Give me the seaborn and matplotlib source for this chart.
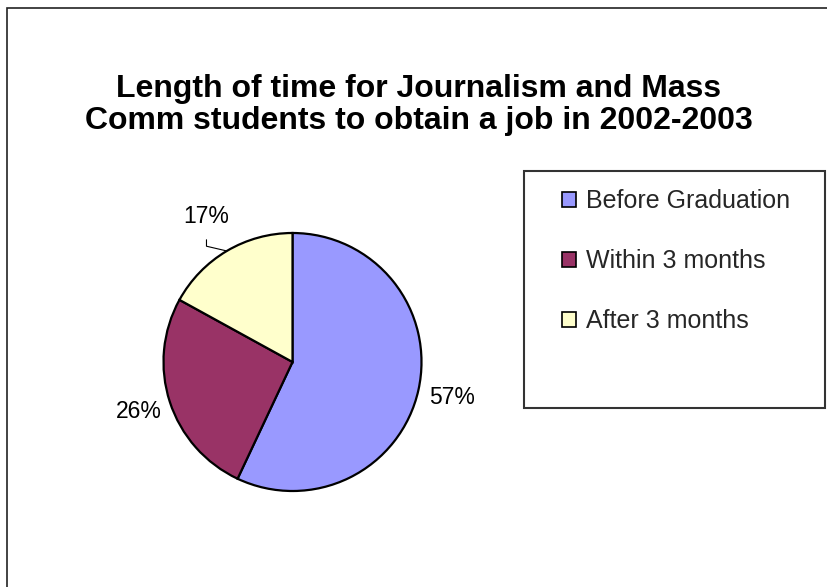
import matplotlib
matplotlib.use("Agg")
import matplotlib.pyplot as plt
import seaborn as sns
import numpy as np
from matplotlib.patches import Patch, Rectangle

# ---- data ----
categories = ["Before Graduation", "Within 3 months", "After 3 months"]
shares = [57, 26, 17]
pct_labels = ["57%", "26%", "17%"]
colors = ["#9999FF", "#993366", "#FFFFCC"]
title_lines = ["Length of time for Journalism and Mass",
               "Comm students to obtain a job in 2002-2003"]

sns.set_theme(style="white")
plt.rcParams['font.family'] = ['Liberation Sans', 'DejaVu Sans']

W, H = 828, 587
fig = plt.figure(figsize=(W / 100, H / 100), dpi=100)
fig.patch.set_facecolor('white')


def fx(px):
    return px / W


def fy(py):
    return 1 - py / H


# outer chart frame
fig.add_artist(Rectangle((fx(7), fy(600)), fx(840) - fx(7), fy(8) - fy(600),
                         transform=fig.transFigure, fill=False,
                         edgecolor='#222222', lw=1.2))

# title
fig.text(fx(419), fy(105), "\n".join(title_lines), ha='center', va='center',
         fontsize=23, fontweight='bold', linespacing=1.07, color='black')

# pie
cx, cy, r = 292.5, 362, 129
ax = fig.add_axes([fx(cx - r), fy(cy + r), 2 * r / W, 2 * r / H])
wedges, _ = ax.pie(shares, colors=colors, startangle=90, counterclock=False,
                   radius=1, wedgeprops=dict(edgecolor='black', linewidth=1.6))
for w in wedges:
    w.set_clip_on(False)
ax.set_xlim(-1, 1)
ax.set_ylim(-1, 1)
ax.axis('off')

label_dist = [1.27, 1.25, 1.31]
for w, lab, d in zip(wedges, pct_labels, label_dist):
    m = np.deg2rad((w.theta1 + w.theta2) / 2)
    lx, ly = d * np.cos(m), d * np.sin(m)
    ax.text(lx, ly, lab, ha='center', va='center', fontsize=16.5, color='black',
            clip_on=False)
    if lab == "17%":
        ax.plot([lx, lx, np.cos(m)], [ly - 0.18, ly - 0.23, np.sin(m)],
                color='black', lw=0.8, clip_on=False)

# legend box
fig.add_artist(Rectangle((fx(524), fy(408)), fx(825) - fx(524), fy(171) - fy(408),
                         transform=fig.transFigure, fill=False,
                         edgecolor='#333333', lw=1.5))
handles = [Patch(facecolor=c, edgecolor='black', lw=1.2) for c in colors]
fig.legend(handles, categories, loc='upper left',
           bbox_to_anchor=(fx(562), fy(189)), frameon=False, fontsize=18,
           handlelength=0.55, handleheight=0.55, handletextpad=0.4,
           labelspacing=1.45, borderpad=0, borderaxespad=0)

fig.savefig("out.png", dpi=100)
